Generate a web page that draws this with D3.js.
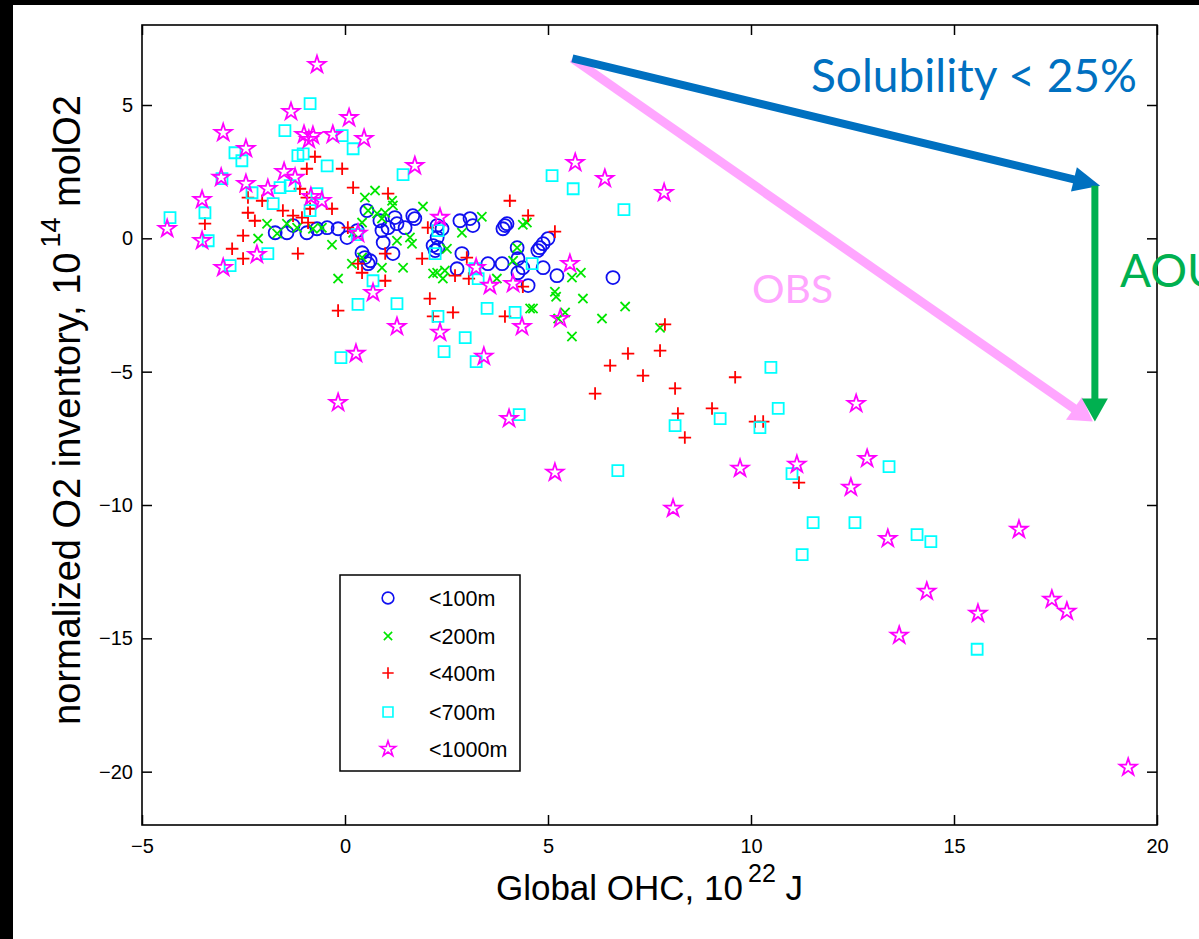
<!DOCTYPE html>
<html>
<head>
<meta charset="utf-8">
<script src="https://cdn.jsdelivr.net/npm/d3@7"></script>
<style>
  html, body { margin: 0; padding: 0; background: #fff; }
  svg { display: block; }
  .tick text { font-family: "Liberation Sans", Arial, Helvetica, sans-serif; font-size: 20px; fill: #000; }
  .tick line { stroke: #000; stroke-width: 1.5; }
</style>
</head>
<body>
<svg id="chart" width="1199" height="939"></svg>
<script>
// Depth classes and tick values
const depthLabels = ["<100m", "<200m", "<400m", "<700m", "<1000m"];
const xTicks = [-5, 0, 5, 10, 15, 20];
const yTicks = [-20, -15, -10, -5, 0, 5];

// [global OHC (1e22 J), normalized O2 inventory (1e14 molO2)] for each depth class
const pts100 = [[-1.72,0.21],[-1.43,0.21],[-1.28,0.48],[-0.94,0.21],[-0.69,0.36],[-0.44,0.40],[-0.17,0.36],[0.05,0.03],[0.30,0.29],[0.54,1.04],[0.86,0.66],[0.91,0.29],[0.94,-0.16],[1.06,0.40],[1.23,0.78],[1.28,0.55],[1.48,0.40],[1.67,0.85],[1.72,0.74],[0.42,-0.54],[0.49,-0.72],[0.62,-0.84],[0.57,-0.95],[1.18,-0.57],[2.17,-0.27],[2.27,0.48],[2.39,0.36],[2.27,0.03],[2.29,-0.35],[2.22,-0.46],[2.83,0.66],[3.08,0.74],[3.15,0.48],[2.88,-0.57],[2.76,-1.14],[3.52,-0.95],[3.87,-0.95],[3.94,0.48],[3.99,0.55],[3.89,0.36],[4.24,-0.35],[4.26,-0.76],[4.26,-1.29],[4.38,-1.10],[4.51,-1.77],[4.75,-0.46],[4.80,-0.35],[4.88,-0.20],[5.00,-0.01],[4.88,-1.10],[5.22,-1.40],[6.60,-1.47]];

const pts200 = [[-2.14,-0.01],[-1.92,0.55],[-1.67,0.18],[-1.43,0.55],[-1.18,0.40],[-0.79,0.36],[-0.57,0.40],[-0.32,-0.24],[-0.17,-1.51],[0.17,-0.95],[0.20,0.21],[0.42,0.59],[0.42,-0.72],[0.49,1.53],[0.74,1.79],[0.57,1.04],[0.79,0.93],[0.91,0.74],[0.99,0.96],[1.16,1.41],[1.18,1.23],[1.28,-0.09],[1.43,-1.10],[1.60,0.03],[1.65,-0.20],[1.92,1.19],[0.91,-1.10],[2.17,-1.32],[2.27,-1.29],[2.41,-1.51],[2.46,-1.21],[2.51,-0.39],[2.88,0.21],[3.37,0.81],[3.74,-1.51],[4.14,-0.84],[4.24,-0.35],[4.38,0.51],[4.48,0.59],[4.56,-2.63],[4.63,-2.63],[5.17,-2.00],[5.20,-2.19],[5.42,-2.78],[5.25,-3.01],[5.59,-1.47],[5.81,-1.29],[5.86,-2.26],[6.33,-3.01],[6.90,-2.56],[7.76,-3.35],[5.59,-3.68]];

const pts400 = [[-3.45,0.55],[-2.78,-0.39],[-2.51,0.10],[-2.51,-0.76],[-2.39,1.53],[-2.39,0.96],[-2.22,0.66],[-2.04,1.41],[-1.53,1.04],[-1.28,0.85],[-1.06,0.78],[-1.16,-0.57],[-1.11,1.86],[-0.94,2.61],[-0.74,3.06],[-0.07,2.61],[0.20,1.90],[-0.94,1.53],[-0.86,1.11],[-0.91,0.59],[-0.32,1.11],[0.07,0.40],[1.06,1.68],[0.99,-0.57],[0.32,-0.95],[0.42,-1.29],[0.99,-1.59],[-0.17,-2.71],[2.04,0.40],[1.90,-0.76],[3.00,-0.72],[2.71,-1.40],[3.05,-1.51],[4.06,1.41],[4.51,0.85],[5.17,0.25],[4.38,-1.81],[2.09,-2.26],[2.17,-2.93],[2.66,-2.78],[3.94,-2.93],[7.88,-3.23],[6.97,-4.32],[7.76,-4.21],[6.53,-4.77],[7.34,-5.15],[6.16,-5.82],[8.13,-5.63],[9.61,-5.21],[9.04,-6.38],[8.20,-6.57],[8.37,-7.47],[10.10,-6.87],[10.30,-6.87],[11.18,-9.16]];

const pts700 = [[-4.31,0.78],[-3.45,0.96],[-3.37,-0.09],[-3.03,2.24],[-2.71,3.21],[-2.54,2.91],[-2.83,-1.02],[-2.29,1.71],[-1.90,-0.57],[-1.77,1.30],[-1.60,1.90],[-1.48,4.04],[-1.35,1.98],[-1.16,3.10],[-1.03,3.17],[-0.86,5.05],[-0.69,1.68],[-0.86,1.04],[-0.44,2.72],[-0.07,3.85],[0.20,3.36],[1.43,2.39],[0.69,-1.59],[0.32,-2.48],[1.28,-2.45],[-0.10,-4.47],[0.30,0.14],[2.22,-0.57],[2.29,0.29],[3.20,-1.14],[3.28,-1.51],[4.61,-0.95],[5.10,2.35],[5.62,1.86],[6.87,1.08],[2.29,-2.93],[2.44,-4.25],[3.50,-2.63],[4.19,-2.78],[2.96,-3.72],[3.23,-4.62],[4.29,-6.61],[6.72,-8.71],[8.13,-7.02],[9.24,-6.76],[10.49,-4.84],[10.67,-6.38],[10.22,-7.10],[11.01,-8.82],[11.53,-10.66],[12.56,-10.66],[13.40,-8.56],[11.26,-11.86],[14.09,-11.11],[14.43,-11.37],[15.57,-15.41]];

const pts1000 = [[-4.38,0.36],[-3.52,1.45],[-3.52,-0.09],[-3.00,3.96],[-3.05,2.28],[-3.00,-1.10],[-2.44,3.36],[-2.44,2.05],[-2.17,-0.61],[-1.90,1.86],[-1.50,2.50],[-1.33,4.75],[-1.23,2.28],[-1.01,3.89],[-0.89,3.70],[-0.79,3.85],[-0.69,6.51],[-0.84,1.56],[-0.57,1.41],[-0.30,3.89],[0.10,4.52],[0.47,3.74],[0.32,0.18],[0.69,-2.04],[1.72,2.72],[1.28,-3.31],[2.34,0.78],[3.23,-1.10],[3.57,-1.77],[4.14,-1.70],[4.36,-3.31],[5.30,-3.01],[5.54,-0.95],[6.40,2.24],[5.67,2.84],[7.86,1.71],[2.34,-3.53],[0.27,-4.32],[-0.17,-6.16],[3.42,-4.43],[4.04,-6.76],[5.17,-8.78],[8.08,-10.13],[9.73,-8.63],[11.13,-8.48],[12.59,-6.20],[12.86,-8.26],[12.46,-9.34],[13.37,-11.26],[16.60,-10.92],[14.33,-13.24],[13.65,-14.89],[15.59,-14.07],[17.41,-13.54],[17.78,-13.99],[19.29,-19.84]];

// Annotation arrows, in data units
const arrowStart = [5.6, 6.75];
const solubilityEnd = [18.6, 1.97];
const aouTop = [18.47, 1.97];
const aouEnd = [18.47, -6.87];
const obsEnd = [18.42, -6.87];

const svg = d3.select("#chart");
const W = 1199, H = 939;
const m = { left: 142, right: 1157, top: 25, bottom: 825 };

svg.append("rect").attr("width", W).attr("height", H).attr("fill", "#fff");
// dark frame strips along the top and left edges
svg.append("rect").attr("x", 0).attr("y", 0).attr("width", W).attr("height", 5).attr("fill", "#000");
svg.append("rect").attr("x", 0).attr("y", 0).attr("width", 13).attr("height", H).attr("fill", "#000");

const x = d3.scaleLinear().domain([-5, 20]).range([m.left, m.right]);
const y = d3.scaleLinear().domain([-22, 8]).range([m.bottom, m.top]);

// Axes with inward ticks on all four sides
const gx = svg.append("g").attr("transform", `translate(0,${m.bottom})`)
  .call(d3.axisBottom(x).tickValues(xTicks).tickSize(-10).tickPadding(14));
const gy = svg.append("g").attr("transform", `translate(${m.left},0)`)
  .call(d3.axisLeft(y).tickValues(yTicks).tickSize(-10).tickPadding(9));
const gt = svg.append("g").attr("transform", `translate(0,${m.top})`)
  .call(d3.axisTop(x).tickValues(xTicks).tickSize(-10).tickFormat(""));
const gr = svg.append("g").attr("transform", `translate(${m.right},0)`)
  .call(d3.axisRight(y).tickValues(yTicks).tickSize(-10).tickFormat(""));
[gx, gy, gt, gr].forEach(g => g.select(".domain").remove());

svg.append("rect").attr("x", m.left).attr("y", m.top)
  .attr("width", m.right - m.left).attr("height", m.bottom - m.top)
  .attr("fill", "none").attr("stroke", "#000").attr("stroke-width", 1.6);

// Marker shapes
function starPath(R) {
  const r = R * 0.382;
  const p = [];
  for (let i = 0; i < 10; i++) {
    const a = -Math.PI / 2 + i * Math.PI / 5;
    const rr = i % 2 === 0 ? R : r;
    p.push([rr * Math.cos(a), rr * Math.sin(a)]);
  }
  return "M" + p.map(d => d[0].toFixed(2) + "," + d[1].toFixed(2)).join("L") + "Z";
}
const markers = {
  circle: "M6.5,0A6.5,6.5 0 1,1 -6.5,0A6.5,6.5 0 1,1 6.5,0Z",
  x: "M-4.6,-4.6L4.6,4.6M-4.6,4.6L4.6,-4.6",
  plus: "M-6.3,0L6.3,0M0,-6.3L0,6.3",
  square: "M-5.5,-5.5H5.5V5.5H-5.5Z",
  star: starPath(9)
};

const series = [
  { label: depthLabels[0], data: pts100, shape: "circle", color: "#1010f0" },
  { label: depthLabels[1], data: pts200, shape: "x", color: "#00e600" },
  { label: depthLabels[2], data: pts400, shape: "plus", color: "#ff0000" },
  { label: depthLabels[3], data: pts700, shape: "square", color: "#00ffff" },
  { label: depthLabels[4], data: pts1000, shape: "star", color: "#ff00ff" }
];

const plot = svg.append("g");
series.forEach(s => {
  plot.append("g").selectAll("path").data(s.data).join("path")
    .attr("d", markers[s.shape])
    .attr("transform", d => `translate(${x(d[0])},${y(d[1])})`)
    .attr("fill", "none").attr("stroke", s.color).attr("stroke-width", 1.8);
});

// Legend
const lg = svg.append("g");
lg.append("rect").attr("x", 340).attr("y", 575).attr("width", 180).attr("height", 196)
  .attr("fill", "#fff").attr("stroke", "#000").attr("stroke-width", 1.5);
const rowY = [598, 636, 673, 712, 749];
series.forEach((s, i) => {
  lg.append("path").attr("d", markers[s.shape])
    .attr("transform", `translate(388,${rowY[i]}) scale(0.9)`)
    .attr("fill", "none").attr("stroke", s.color).attr("stroke-width", 1.8);
  lg.append("text").attr("x", 429).attr("y", rowY[i] + 7.5)
    .attr("font-family", "Liberation Sans, Arial, sans-serif").attr("font-size", 21.5)
    .text(s.label);
});

// Axis titles
const labFont = "Liberation Sans, Arial, Helvetica, sans-serif";
const xl = svg.append("text").attr("x", (m.left + m.right) / 2).attr("y", 900)
  .attr("text-anchor", "middle").attr("font-family", labFont).attr("font-size", 35);
xl.append("tspan").text("Global OHC, 10");
xl.append("tspan").attr("dx", 5).attr("dy", -18).attr("font-size", 25).text("22");
xl.append("tspan").attr("dy", 18).text(" J");

const yl = svg.append("text")
  .attr("transform", `translate(80,410) rotate(-90)`)
  .attr("text-anchor", "middle").attr("font-family", labFont).attr("font-size", 38);
yl.append("tspan").text("normalized O2 inventory, 10");
yl.append("tspan").attr("dx", 5).attr("dy", -20).attr("font-size", 27).text("14");
yl.append("tspan").attr("dy", 20).text(" molO2");

// Annotation arrows
function arrow(p0, p1, color, lw, headLen, headW) {
  const x0 = x(p0[0]), y0 = y(p0[1]), x1 = x(p1[0]), y1 = y(p1[1]);
  const dx = x1 - x0, dy = y1 - y0, L = Math.hypot(dx, dy);
  const ux = dx / L, uy = dy / L, nx = -uy, ny = ux;
  const bx = x1 - ux * headLen, by = y1 - uy * headLen;
  svg.append("line").attr("x1", x0).attr("y1", y0).attr("x2", bx + ux * 1).attr("y2", by + uy * 1)
    .attr("stroke", color).attr("stroke-width", lw);
  svg.append("path")
    .attr("d", `M${x1},${y1}L${bx + nx * headW / 2},${by + ny * headW / 2}L${bx - nx * headW / 2},${by - ny * headW / 2}Z`)
    .attr("fill", color);
}
arrow(arrowStart, obsEnd, "#ffa6ff", 9, 23, 28);
arrow(arrowStart, solubilityEnd, "#0070c0", 8, 27, 25);
arrow(aouTop, aouEnd, "#00b050", 7, 23, 26);

const annFont = "Lato, 'Open Sans', sans-serif";
svg.append("text").attr("x", 811).attr("y", 92)
  .attr("font-family", annFont).attr("font-size", 46).attr("fill", "#0070c0")
  .attr("textLength", 326).attr("lengthAdjust", "spacingAndGlyphs")
  .text("Solubility < 25%");
svg.append("text").attr("x", 752).attr("y", 303)
  .attr("font-family", annFont).attr("font-size", 39).attr("fill", "#ffa6ff")
  .attr("textLength", 81).attr("lengthAdjust", "spacingAndGlyphs")
  .text("OBS");
// the AOU label runs past the right edge of the canvas
svg.append("text").attr("x", 1120).attr("y", 287)
  .attr("font-family", annFont).attr("font-size", 46).attr("fill", "#00b050")
  .text("AOU");
</script>
</body>
</html>
